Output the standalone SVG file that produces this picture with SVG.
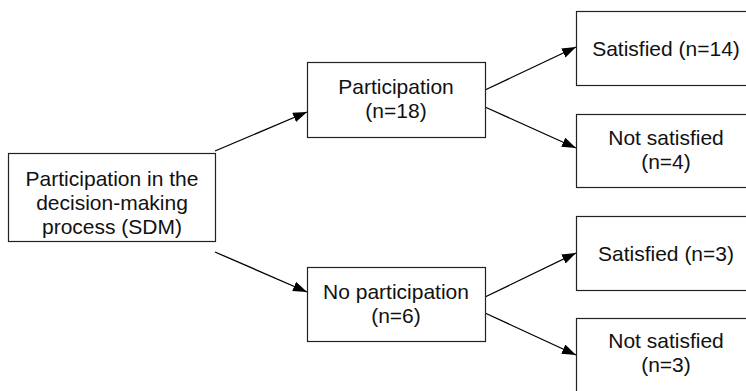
<svg xmlns="http://www.w3.org/2000/svg" width="746" height="391" viewBox="0 0 746 391">
<defs>
<marker id="ah" markerUnits="userSpaceOnUse" markerWidth="15" markerHeight="11" refX="14" refY="5" orient="auto">
<path d="M0,0 L14,5 L0,10 z" fill="#000"/>
</marker>
<style>
.box{fill:#fff;stroke:#222;stroke-width:1.2}
.t{font-family:"Liberation Sans",Arial,sans-serif;font-size:21px;fill:#111;text-anchor:middle}
.c{stroke:#000;stroke-width:1.3;fill:none;marker-end:url(#ah)}
</style>
</defs>
<rect width="746" height="391" fill="#fff"/>
<g id="connectors">
<line class="c" x1="215" y1="151" x2="307" y2="112"/>
<line class="c" x1="215" y1="252" x2="307" y2="292"/>
<line class="c" x1="485" y1="90" x2="576" y2="47"/>
<line class="c" x1="485" y1="107" x2="576" y2="148"/>
<line class="c" x1="485" y1="297" x2="576" y2="253"/>
<line class="c" x1="485" y1="313" x2="576" y2="355"/>
</g>
<g id="sdm">
<rect class="box" x="8.5" y="153.5" width="207" height="88"/>
<text class="t" x="112" y="186">Participation in the</text>
<text class="t" x="112" y="210">decision-making</text>
<text class="t" x="112" y="234">process (SDM)</text>
</g>
<g id="participation">
<rect class="box" x="307.5" y="62.5" width="178" height="75"/>
<text class="t" x="396" y="94">Participation</text>
<text class="t" x="396" y="118">(n=18)</text>
</g>
<g id="no-participation">
<rect class="box" x="307.5" y="267.5" width="178" height="74"/>
<text class="t" x="396" y="299">No participation</text>
<text class="t" x="396" y="323">(n=6)</text>
</g>
<g id="satisfied-14">
<rect class="box" x="576.5" y="11.5" width="180" height="74"/>
<text class="t" x="666" y="56">Satisfied (n=14)</text>
</g>
<g id="not-satisfied-4">
<rect class="box" x="576.5" y="114.5" width="180" height="73"/>
<text class="t" x="666" y="145">Not satisfied</text>
<text class="t" x="666" y="169">(n=4)</text>
</g>
<g id="satisfied-3">
<rect class="box" x="576.5" y="216.5" width="180" height="74"/>
<text class="t" x="666" y="261">Satisfied (n=3)</text>
</g>
<g id="not-satisfied-3">
<rect class="box" x="576.5" y="318.5" width="180" height="74"/>
<text class="t" x="666" y="348">Not satisfied</text>
<text class="t" x="666" y="372">(n=3)</text>
</g>
</svg>
